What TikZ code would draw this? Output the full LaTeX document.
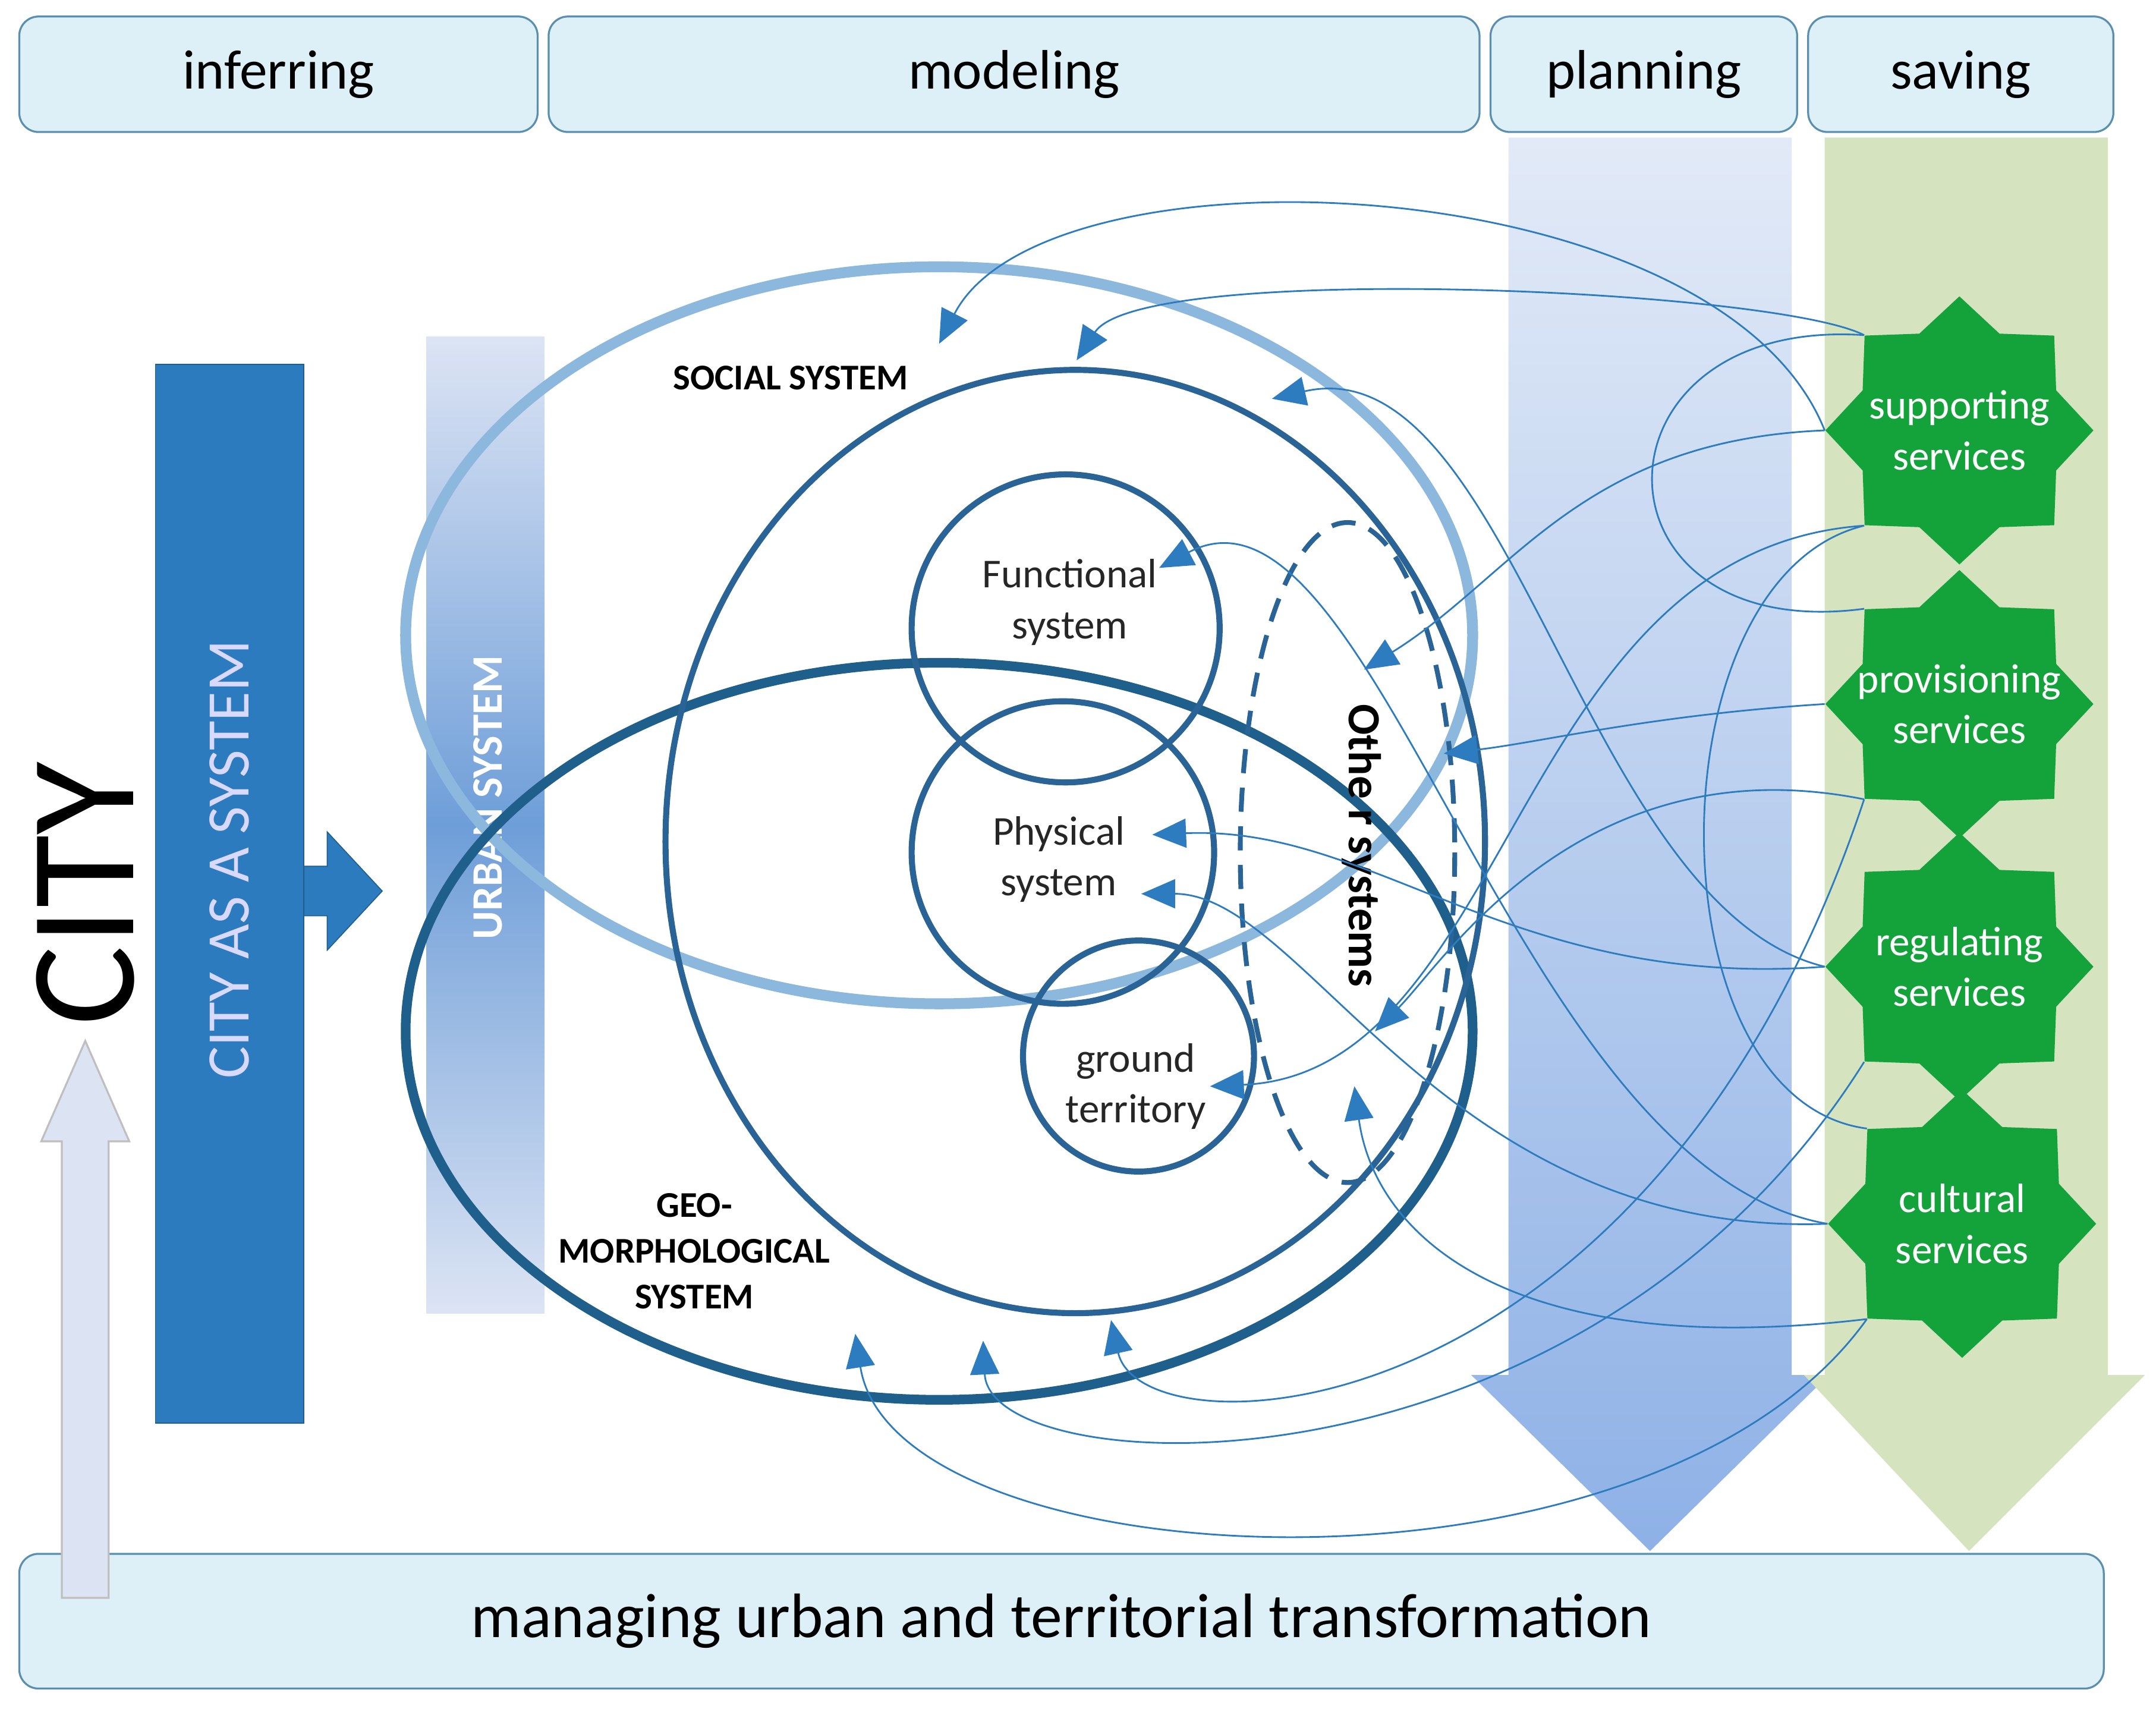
\documentclass[tikz,border=0pt]{standalone}
\usepackage{fontspec}
\setmainfont{Carlito}
\usetikzlibrary{shapes.geometric,arrows.meta}
\definecolor{hdr}{HTML}{DDF0F8}
\definecolor{hdrb}{HTML}{5A8FB0}
\definecolor{dblue}{HTML}{1F5F8B}
\definecolor{mblue}{HTML}{2A6496}
\definecolor{lblue}{HTML}{8DB8DE}
\definecolor{cblue}{HTML}{2C7BBF}
\definecolor{sgreen}{HTML}{14A33A}
\definecolor{conn}{HTML}{2E7CC0}
\definecolor{plt}{HTML}{E2EAF7}
\definecolor{plb}{HTML}{8EB1E6}
\definecolor{ubm}{HTML}{6E9ED8}
\definecolor{ube}{HTML}{DCE4F4}
\definecolor{svg}{HTML}{D5E4BF}
\tikzset{
 hbox/.style={draw=hdrb,fill=hdr,rounded corners=8pt,line width=0.8pt},
 htext/.style={font=\fontsize{23}{27}\selectfont},
 lab/.style={font=\fontsize{17}{21}\selectfont,align=center,text=black!85},
 caps/.style={font=\bfseries\fontsize{15}{19}\selectfont,align=center},
 star8/.style={star,star points=8,star point ratio=1.28,minimum size=3.9cm,fill=sgreen,inner sep=0pt},
 stext/.style={text=white,align=center,font=\fontsize{17}{21}\selectfont},
 con/.style={draw=conn,line width=0.7pt,-{Triangle[length=14pt,width=12pt]}},
 circ/.style={draw=mblue,line width=2.5pt}
}
\begin{document}
\begin{tikzpicture}[x=0.02cm,y=-0.02cm]
\useasboundingbox (0,0) rectangle (1568,1245);
% headers
\draw[hbox] (14,12) rectangle (391,96) node[midway,htext] (hi) {inferring};
\draw[hbox] (399,12) rectangle (1076,96) node[midway,htext] (hm) {modeling};
\draw[hbox] (1084,12) rectangle (1307,96) node[midway,htext] (hp) {planning};
\draw[hbox] (1315,12) rectangle (1537,96) node[midway,htext] (hs) {saving};
% planning arrow
\shade[top color=plt,bottom color=plb] (1097,100) -- (1303,100) -- (1303,1000) -- (1330,1000) -- (1200,1128) -- (1070,1000) -- (1097,1000) -- cycle;
% saving arrow
\fill[svg] (1327,100) -- (1533,100) -- (1533,1000) -- (1560,1000) -- (1432,1128) -- (1312,1000) -- (1327,1000) -- cycle;
% bottom
\draw[hbox] (14,1130) rectangle (1530,1228) node[midway,font=\fontsize{26}{30}\selectfont] (bot) {managing urban and territorial transformation};
% city
\node[rotate=90,font=\fontsize{62}{70}\selectfont] (city) at (62,650) {CITY};
\draw[draw=gray!50,fill=ube,line width=0.8pt] (45,1162) -- (45,830) -- (30,830) -- (62,757) -- (94,830) -- (79,830) -- (79,1162) -- cycle;
\fill[cblue,draw=dblue] (113,265) rectangle (221,1035);
\node[rotate=90,text=white!85!blue,font=\fontsize{25}{28}\selectfont] (cas) at (167,625) {CITY AS A SYSTEM};
\fill[cblue,draw=dblue] (221,630) -- (238,630) -- (238,605) -- (278,648) -- (238,691) -- (238,666) -- (221,666) -- cycle;
% urban system bar
\shade[top color=ube,bottom color=ubm] (310,245) rectangle (396,600);
\shade[top color=ubm,bottom color=ube] (310,600) rectangle (396,955);
\node[rotate=90,text=white,font=\bfseries\fontsize{18}{20}\selectfont] (us) at (355,580) {URBAN SYSTEM};
% ellipses
\draw[lblue,line width=4.5pt] (683,462) ellipse [x radius=388,y radius=268];
\draw[dblue,line width=4pt] (683,750) ellipse [x radius=388,y radius=268];
\draw[circ] (782,612) ellipse [x radius=298,y radius=343];
\draw[mblue,line width=2pt,dash pattern=on 10pt off 6pt] (980,620) ellipse [x radius=78,y radius=240];
\draw[circ] (775,457) circle [radius=112];
\draw[circ] (773,620) circle [radius=110];
\draw[circ] (828,768) circle [radius=84];
% labels
\node[caps] (soc) at (575,275) {SOCIAL SYSTEM};
\node[caps] (geo) at (505,910) {GEO-\\MORPHOLOGICAL\\SYSTEM};
\node[lab] (fun) at (778,438) {Functional\\system};
\node[lab] (phy) at (770,625) {Physical\\system};
\node[lab] (gro) at (826,790) {ground\\territory};
\node[rotate=-90,font=\bfseries\fontsize{19}{22}\selectfont] (oth) at (990,615) {Othe r systems};
% stars
\node[star8] (s1) at (1425,313) {};
\node[star8] (s2) at (1425,512) {};
\node[star8] (s3) at (1425,703) {};
\node[star8] (s4) at (1427,890) {};
\node[stext] (l1) at (s1) {supporting\\services};
\node[stext] (l2) at (s2) {provisioning\\services};
\node[stext] (l3) at (s3) {regulating\\services};
\node[stext] (l4) at (s4) {cultural\\services};
% targets
\coordinate (t1) at (683,250);
\coordinate (t2) at (783,262);
\coordinate (t3) at (925,290);
\coordinate (t4) at (843,413);
\coordinate (t5) at (992,487);
\coordinate (t6) at (1050,548);
\coordinate (t7) at (838,607);
\coordinate (t8) at (830,650);
\coordinate (t9) at (1000,750);
\coordinate (t10) at (880,790);
\coordinate (t11) at (985,790);
\coordinate (t12) at (622,970);
\coordinate (t13) at (715,975);
\coordinate (t14) at (808,960);
% connectors
\draw[con] (s1.west) .. controls (1250,120) and (760,100) .. (t1);
\draw[con] (s1.north west) .. controls (1290,210) and (830,190) .. (t2);
\draw[con] (s3.west) .. controls (1150,660) and (1100,250) .. (t3);
\draw[con] (s4.west) .. controls (1100,850) and (1000,330) .. (t4);
\draw[con] (s1.west) .. controls (1150,320) and (1100,420) .. (t5);
\draw[con] (s2.west) .. controls (1200,520) and (1120,540) .. (t6);
\draw[con] (s3.west) .. controls (1100,720) and (1000,600) .. (t7);
\draw[con] (s4.west) .. controls (1050,900) and (950,650) .. (t8);
\draw[con] (s2.south west) .. controls (1150,540) and (1050,700) .. (t9);
\draw[con] (s1.south west) .. controls (1100,400) and (1100,780) .. (t10);
\draw[con] (s4.south west) .. controls (1100,990) and (1000,900) .. (t11);
\draw[con] (s4.south west) .. controls (1200,1180) and (650,1150) .. (t12);
\draw[con] (s3.south west) .. controls (1150,1100) and (720,1080) .. (t13);
\draw[con] (s2.south west) .. controls (1200,1050) and (830,1060) .. (t14);
\draw[conn,line width=0.7pt] (s1.south west) .. controls (1200,420) and (1200,800) .. (s4.north west);
\draw[conn,line width=0.7pt] (s2.north west) .. controls (1150,470) and (1150,230) .. (s1.north west);
\end{tikzpicture}
\end{document}
